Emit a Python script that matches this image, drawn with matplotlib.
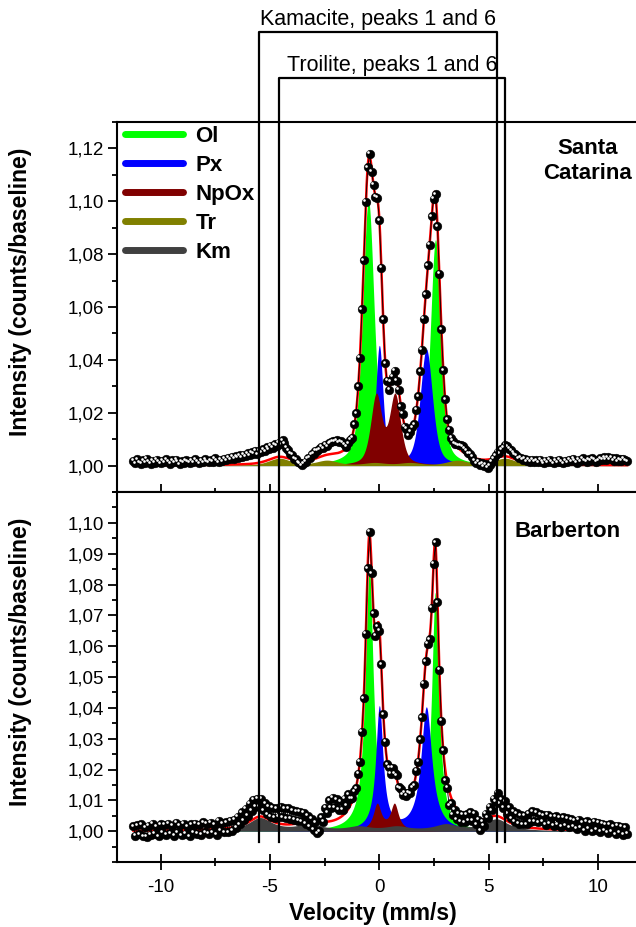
import numpy as np
import matplotlib
matplotlib.use("Agg")
import matplotlib.pyplot as plt
from matplotlib.lines import Line2D
from matplotlib.ticker import MultipleLocator, FixedLocator, FuncFormatter
from matplotlib.transforms import ScaledTranslation, blended_transform_factory

plt.rcParams["font.family"] = ["Liberation Sans", "DejaVu Sans"]

# velocity channels of the folded spectra (mm/s)
V_FIRST, V_LAST, N_CHAN = -11.25, 11.34, 256

# fitted sub-spectra: (line positions mm/s, depths, FWHM mm/s)
top_ol = ([-0.50, 2.57], [0.100, 0.085], [0.62, 0.56])
top_px = ([0.00, 2.15], [0.045, 0.044], [0.40, 0.66])
top_npox = ([-0.14, 0.72], [0.026, 0.026], [0.60, 0.60])
top_tr = ([-4.57, -2.39, -0.22, 1.40, 3.57, 5.75],
          [0.0027, 0.0019, 0.0010, 0.0010, 0.0019, 0.0027],
          [1.2] * 6)
top_eta = 0.5   # Lorentzian fraction of the line shape

bot_ol = ([-0.46, 2.56], [0.085, 0.077], [0.44, 0.40])
bot_px = ([0.00, 2.15], [0.040, 0.040], [0.40, 0.60])
bot_npox = ([-0.10, 0.69], [0.0085, 0.0085], [0.44, 0.44])
bot_km = ([-5.45, -3.20, -0.95, 0.80, 3.05, 5.35],
          [0.0042, 0.0020, 0.0013, 0.0013, 0.0020, 0.0038],
          [1.3] * 6)
bot_eta = 1.0

top_scatter = [
    18, 8, 22, 12, 6, 19, 10, 24, 14, 5, 17, 9, 21, 13, 7, 16,
    11, 23, 15, 6, 18, 10, 20, 12, 4, 15, 9, 19, 13, 8, 17, 11,
    22, 14, 7, 16, 10, 21, 13, 9, 18, 12, 24, 15, 10, 19, 14, 23,
    17, 26, 20, 29, 22, 31, 25, 34, 27, 36, 30, 40, 33, 44, 38, 47,
    34, 46, 37, 47, 38, 49, 40, 50, 40, 50, 42, 53, 47, 63, 53, 38,
    31, 20, 18, 5, 4, -6, -8, -17, -8, -3, 8, 10, 20, 20, 29, 28,
    30, 36, 29, 39, 32, 41, 44, 47, 46, 49, 39, 41, 32, 18, 4, 7,
    8, -6, 10, -4, 12, -8, 6, -10, 9, -5, 7, -12, 4, -6, 10, -3,
    -4, 8, -7, 5, -10, 6, -3, 9, -8, 4, -6, 10, -5, 7, -9, 3,
    6, -8, 5, -4, 9, -7, 3, -10, 8, -5, 6, -9, 4, -3, 7, -6,
    0, 4, 2, 6, 2, 6, 4, 10, 12, 18, 20, 16, 14, 8, 10, 2,
    -10, -18, -11, -20, -13, -25, -17, -31, -22, -11, 1, 11, 21, 14, 27, 33,
    44, 39, 32, 28, 21, 18, 15, 9, 14, 7, 14, 5, 12, 6, 14, 8,
    14, 6, 17, 9, 4, 13, 7, 17, 10, 5, 15, 8, 18, 11, 6, 15,
    10, 19, 13, 23, 15, 8, 20, 13, 25, 17, 11, 22, 15, 26, 19, 13,
    16, 26, 19, 29, 20, 30, 22, 27, 17, 25, 14, 22, 17, 25, 19, 14,
]
bot_scatter = [
    14, -16, 18, -12, 20, -18, 10, -20, 16, -14, 22, -10, 12, -18, 20, -8,
    18, -14, 22, -10, 14, -18, 24, -6, 16, -16, 20, -12, 10, -20, 18, -8,
    20, -12, 16, -16, 24, -8, 18, -14, 22, -10, 14, -18, 26, -6, 18, -12,
    20, -14, 22, -10, 24, -4, 30, 4, 42, 14, 48, 22, 58, 30, 62, 36,
    60, 33, 57, 21, 47, 14, 43, 13, 44, 15, 48, 22, 55, 23, 52, 20,
    52, 19, 46, 13, 40, 8, 36, 3, 28, -9, 16, -19, 6, -29, -5, -40,
    -32, 14, 0, 45, 29, 68, 44, 75, 41, 65, 28, 52, 19, 49, 20, 47,
    22, 8, 12, -4, 8, -6, 10, -8, 6, -10, 8, -12, 4, -14, -6, -10,
    6, -8, 4, -10, 8, -6, 10, -4, 12, 0, 14, 4, 16, 6, 12, 2,
    8, -6, 10, -4, 6, -8, 4, -6, 8, -10, 6, -4, 8, -8, 4, -2,
    2, -34, -18, -46, -20, -40, -12, -32, -6, -26, 2, -18, 12, -6, 22, -4,
    21, -13, 1, -33, -7, -21, 15, 1, 33, 20, 56, 46, 75, 43, 60, 36,
    61, 23, 48, 15, 41, 9, 38, 7, 36, 7, 37, 10, 45, 19, 54, 22,
    52, 20, 47, 24, 44, 14, 46, 19, 40, 12, 43, 16, 38, 10, 41, 15,
    38, 8, 35, 12, 30, 4, 33, 9, 26, -2, 28, 6, 24, -4, 27, 2,
    25, -4, 22, 0, 18, -8, 20, -2, 14, -12, 16, -6, 12, -14, 10, -10,
]

# reference lines for the metallic phases (mm/s)
kamacite_peaks = [-5.52, 5.39]
troilite_peaks = [-4.57, 5.75]

names = ["Ol", "Px", "NpOx", "Tr", "Km"]
colors = {"Ol": "#00ff00", "Px": "#0000ff", "NpOx": "#800000",
          "Tr": "#808000", "Km": "#404040"}


def subspectrum(x, comp, eta):
    """Sum of pseudo-Voigt lines of one sub-spectrum."""
    pos, depth, fwhm = comp
    out = np.zeros_like(x)
    for p, d, f in zip(pos, depth, fwhm):
        lor = 1 / (1 + ((x - p) / (f / 2)) ** 2)
        gau = np.exp(-4 * np.log(2) * (x - p) ** 2 / f ** 2)
        out += d * (eta * lor + (1 - eta) * gau)
    return out


def draw_panel(ax, comps, eta, scatter):
    v = np.linspace(V_FIRST, V_LAST, N_CHAN)
    vf = np.linspace(V_FIRST, V_LAST, 1500)
    total = np.ones_like(vf)
    fit_at_v = np.ones_like(v)
    for z, (name, comp) in enumerate(comps):
        y = subspectrum(vf, comp, eta)
        total += y
        fit_at_v += subspectrum(v, comp, eta)
        ax.fill_between(vf, 1.0, 1.0 + y, color=colors[name], lw=0, zorder=1 + z * 0.1)
    ax.plot(vf, total, color="red", lw=1.8, zorder=3)

    obs = fit_at_v + np.array(scatter) * 1e-4
    ax.plot(v, obs, "-o", color="black", lw=0.6, ms=6.3, mec="black", mew=0.3, zorder=4)
    shine = ax.transData + ScaledTranslation(-1.5 / 100, 1.5 / 100, fig.dpi_scale_trans)
    ax.plot(v, obs, "o", color="white", ms=1.9, mew=0, transform=shine, zorder=5)


fig = plt.figure(figsize=(6.36, 9.27), dpi=100)
W, H = 636, 927
left, right_px = 117, 641.7
ax_top = fig.add_axes([left / W, (H - 492) / H, (right_px - left) / W, 370 / H])
ax_bot = fig.add_axes([left / W, (H - 862) / H, (right_px - left) / W, 370 / H])

draw_panel(ax_top, [("Ol", top_ol), ("Px", top_px), ("NpOx", top_npox), ("Tr", top_tr)],
           top_eta, top_scatter)
draw_panel(ax_bot, [("Ol", bot_ol), ("Px", bot_px), ("NpOx", bot_npox), ("Km", bot_km)],
           bot_eta, bot_scatter)

comma = FuncFormatter(lambda y, _: f"{y:.2f}".replace(".", ","))
top_ticks = [1.00, 1.02, 1.04, 1.06, 1.08, 1.10, 1.12]
bot_ticks = [1.00, 1.01, 1.02, 1.03, 1.04, 1.05, 1.06, 1.07, 1.08, 1.09, 1.10]
for ax, ylim, major, minor in [(ax_top, (0.99, 1.13), top_ticks, 0.01),
                               (ax_bot, (0.99, 1.11), bot_ticks, 0.005)]:
    ax.set_xlim(-12, 12)
    ax.set_ylim(*ylim)
    ax.xaxis.set_major_locator(MultipleLocator(5))
    ax.xaxis.set_minor_locator(MultipleLocator(2.5))
    ax.yaxis.set_major_locator(FixedLocator(major))
    ax.yaxis.set_minor_locator(MultipleLocator(minor))
    ax.yaxis.set_major_formatter(comma)
    ax.xaxis.set_major_formatter(FuncFormatter(lambda x, _: f"{x:g}"))
    for s in ax.spines.values():
        s.set_linewidth(1.5)
    ax.spines["right"].set_visible(False)
    ax.tick_params(axis="x", which="major", direction="inout", length=11, width=1.3,
                   labelsize=13.5, pad=7, top=False)
    ax.tick_params(axis="x", which="minor", direction="inout", length=6, width=1.3, top=False)
    ax.tick_params(axis="y", which="major", direction="out", length=6.5, width=1.3,
                   labelsize=13.5, pad=3, right=False)
    ax.tick_params(axis="y", which="minor", direction="out", length=3.5, width=1.3, right=False)
    ax.set_ylabel("Intensity (counts/baseline)", fontsize=16.5, fontweight="bold")
    ax.yaxis.set_label_coords(-0.162, 0.54)

ax_top.tick_params(axis="x", labelbottom=False)
ax_bot.set_xlabel("Velocity (mm/s)", fontsize=16.5, fontweight="bold")
ax_bot.xaxis.set_label_coords(0.488, -0.108)

handles = [Line2D([], [], color=colors[n], lw=5, solid_capstyle="round") for n in names]
ax_top.legend(handles, names, loc="upper left", bbox_to_anchor=(0.016, 0.989),
              frameon=False, borderaxespad=0, borderpad=0, handlelength=2.6,
              handletextpad=0.55, labelspacing=0.36,
              prop={"weight": "bold", "size": 16})

ax_top.text(0.897, 0.956, "Santa\nCatarina", transform=ax_top.transAxes, ha="center",
            va="top", fontsize=16, fontweight="bold", linespacing=1.25)
ax_bot.text(0.859, 0.892, "Barberton", transform=ax_bot.transAxes, ha="center",
            va="center", fontsize=16, fontweight="bold")

trans = blended_transform_factory(ax_bot.transData, fig.transFigure)
y_low = 1 - 842 / H
for peaks, top_px_y, text_px_y, label in [
        (kamacite_peaks, 32, 20, "Kamacite, peaks 1 and 6"),
        (troilite_peaks, 78, 65, "Troilite, peaks 1 and 6")]:
    y_top = 1 - top_px_y / H
    fig.add_artist(Line2D([peaks[0], peaks[0], peaks[1], peaks[1]],
                          [y_low, y_top, y_top, y_low], transform=trans,
                          color="black", lw=1.6))
    fig.text(np.mean(peaks), 1 - text_px_y / H, label, transform=trans,
             ha="center", va="center", fontsize=15.5)

fig.savefig("out.png", dpi=100)
